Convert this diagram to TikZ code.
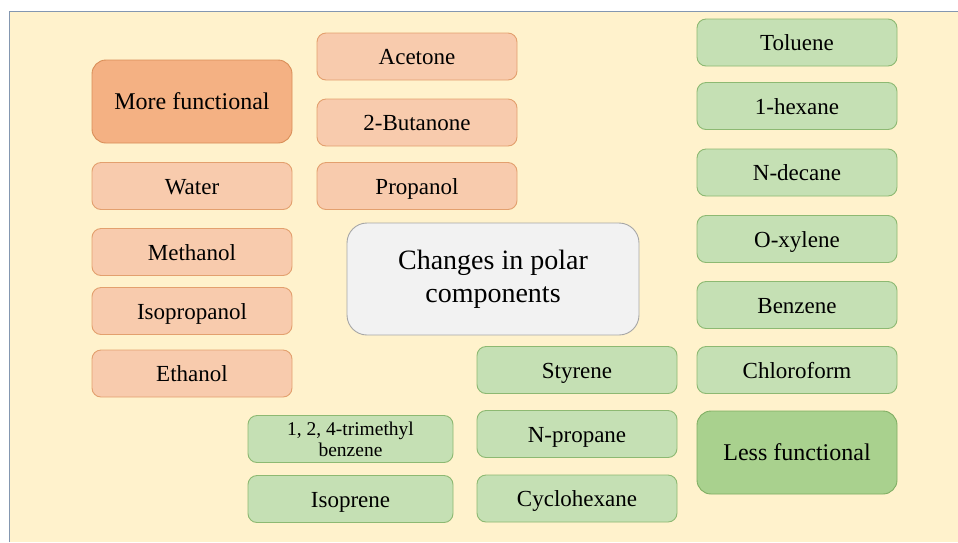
\documentclass[tikz,border=0pt]{standalone}
\usepackage{fontspec}
\setmainfont{Liberation Serif}
\definecolor{bgfill}{HTML}{FFF2CC}
\definecolor{bgline}{HTML}{8497B0}
\definecolor{ofill}{HTML}{F8CBAD}
\definecolor{oline}{HTML}{E3A06E}
\definecolor{odark}{HTML}{F4B183}
\definecolor{odline}{HTML}{D98E58}
\definecolor{gfill}{HTML}{C5E0B4}
\definecolor{gline}{HTML}{8DB972}
\definecolor{gdark}{HTML}{A9D18E}
\definecolor{gdline}{HTML}{7FAE62}
\definecolor{cfill}{HTML}{F2F2F2}
\definecolor{cline}{HTML}{A6A6A6}
\tikzset{
  basebox/.style={rectangle, rounded corners=9pt, line width=0.9pt, inner sep=0pt, outer sep=0pt,
    minimum width=200pt, minimum height=47pt, font=\fontsize{23}{25}\selectfont, align=center, text=black,
    text height=17pt, text depth=0.4pt},
  obox/.style={basebox, fill=ofill, draw=oline},
  gbox/.style={basebox, fill=gfill, draw=gline},
  obig/.style={basebox, fill=odark, draw=odline, minimum height=83pt, rounded corners=14pt, font=\fontsize{24}{26}\selectfont,
    text height=16.5pt, text depth=0.5pt},
  gbig/.style={basebox, fill=gdark, draw=gdline, minimum height=83pt, rounded corners=14pt, font=\fontsize{24}{26}\selectfont,
    text height=16.5pt, text depth=0.5pt},
  cbox/.style={basebox, fill=cfill, draw=cline, minimum width=292pt, minimum height=112pt, rounded corners=20pt,
    font=\fontsize{28}{33}\selectfont, text height={}, text depth={}}
}
\begin{document}
\begin{tikzpicture}[x=1pt,y=-1pt]
\useasboundingbox (0,0) rectangle (958,542);
\fill[bgfill] (9,11) rectangle (958,542);
\draw[bgline, line width=1pt] (9,542) -- (9,11) -- (958,11);
% left column
\node[obig] (more) at (192,101.5) {More functional};
\node[obox] (water) at (192,186) {Water};
\node[obox] (methanol) at (192,252) {Methanol};
\node[obox] (isopropanol) at (192,311) {Isopropanol};
\node[obox] (ethanol) at (192,373.5) {Ethanol};
% second column
\node[obox] (acetone) at (417,56.5) {Acetone};
\node[obox] (butanone) at (417,122.5) {2-Butanone};
\node[obox] (propanol) at (417,186) {Propanol};
% centre
\node[cbox] (changes) at (493,279) {Changes in polar\\components};
% right column
\node[gbox] (toluene) at (797,42.5) {Toluene};
\node[gbox] (hexane) at (797,106) {1-hexane};
\node[gbox] (decane) at (797,172.5) {N-decane};
\node[gbox] (oxylene) at (797,239) {O-xylene};
\node[gbox] (benzene) at (797,305) {Benzene};
\node[gbox] (chloroform) at (797,370) {Chloroform};
\node[gbig] (less) at (797,452.5) {Less functional};
% lower middle
\node[gbox] (styrene) at (577,370) {Styrene};
\node[gbox] (npropane) at (577,434) {N-propane};
\node[gbox] (cyclohexane) at (577,498.5) {Cyclohexane};
\node[gbox, minimum width=205pt, font=\fontsize{19.5}{21}\selectfont, text height={}, text depth={}] (trimethyl) at (350.5,439) {1, 2, 4-trimethyl\\benzene};
\node[gbox, minimum width=205pt] (isoprene) at (350.5,499) {Isoprene};
\end{tikzpicture}
\end{document}
